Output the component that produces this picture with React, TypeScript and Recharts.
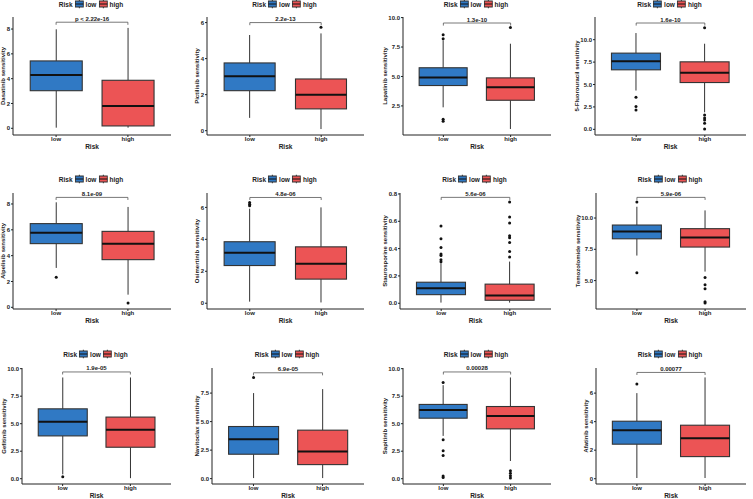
import React from "react";
import { Bar, ComposedChart, ReferenceLine, XAxis, YAxis } from "recharts";

const drugs = [
  "Dasatinib", "Pictilisib", "Lapatinib", "5-Fluorouracil",
  "Alpelisib", "Osimertinib", "Staurosporine", "Temozolomide",
  "Gefitinib", "Navitoclax", "Sapitinib", "Afatinib"
];
const pLabels = [
  "p < 2.22e-16", "2.2e-13", "1.3e-10", "1.6e-10",
  "8.1e-09", "4.8e-06", "5.6e-06", "5.9e-06",
  "1.9e-05", "6.9e-05", "0.00028", "0.00077"
];
const groups = ["low", "high"];

// every row is [low, high]
const whiskerMin = [[0.05, 0.05], [0.71, 0.09], [2.38, 0.54], [4.33, 1.9], [3.05, 0.98], [0.1, 0.05], [0.005, 0.005], [7.0, 5.72], [0.4, 0.05], [0.05, 0.05], [3.89, 1.61], [0.05, 0.05]];
const q1 = [[3.03, 0.19], [2.22, 1.21], [4.23, 2.98], [6.64, 5.22], [4.93, 3.69], [2.36, 1.51], [0.063, 0.022], [8.34, 7.68], [3.89, 2.86], [2.14, 1.23], [5.5, 4.53], [2.42, 1.55]];
const medians = [[4.3, 1.8], [3.02, 1.99], [4.91, 4.09], [7.6, 6.31], [5.78, 4.93], [3.16, 2.47], [0.11, 0.056], [8.93, 8.45], [5.17, 4.44], [3.46, 2.37], [6.24, 5.69], [3.4, 2.84]];
const q3 = [[5.43, 3.87], [3.76, 2.87], [5.74, 4.88], [8.5, 7.53], [6.48, 5.88], [3.85, 3.53], [0.154, 0.14], [9.44, 9.15], [6.35, 5.6], [4.57, 4.25], [6.75, 6.56], [4.03, 3.75]];
const whiskerMax = [[7.98, 8.09], [5.31, 5.4], [8.07, 7.78], [10.74, 9.55], [8.13, 7.77], [5.92, 6.0], [0.293, 0.305], [10.9, 10.61], [9.2, 9.2], [7.5, 7.85], [8.5, 9.2], [6.0, 7.1]];
const lowOutliers = [[], [], [8.55, 8.2, 1.36, 1.19], [3.58, 2.54, 2.17], [2.32], [6.1, 6.2, 6.3], [0.565, 0.472, 0.408, 0.36, 0.35, 0.318, 0.303], [11.28, 5.62], [0.17], [8.87], [8.75, 3.53, 2.55, 2.1, 0.25, 0.1], [6.63]];
const highOutliers = [[], [5.74], [9.15], [11.34, 1.6, 1.27, 1.05, 0.67, 0.04], [0.34], [], [0.741, 0.631, 0.587, 0.494, 0.48, 0.445, 0.379, 0.338], [5.24, 4.66, 4.34, 3.3, 3.2], [], [], [0.73, 0.49, 0.27, 0.06], []];
const bracketAt = [8.55, 6.0, 9.54, 11.86, 8.51, 6.62, 0.775, 11.65, 9.7, 9.28, 9.7, 7.45];

const yDomains = [[-0.54, 8.97], [-0.24, 6.31], [0.03, 10.05], [-0.63, 12.53], [-0.13, 8.85], [-0.36, 6.9], [-0.042, 0.807], [2.73, 12.0], [-0.48, 10.06], [-0.47, 9.7], [-0.48, 10.06], [-0.37, 7.76]];
const yTicks = [
  [0, 2, 4, 6, 8], [0, 2, 4, 6], [2.5, 5, 7.5, 10], [0, 2.5, 5, 7.5, 10],
  [0, 2, 4, 6, 8], [0, 2, 4, 6], [0, 0.2, 0.4, 0.6, 0.8], [5, 7.5, 10],
  [0, 2.5, 5, 7.5, 10], [0, 2.5, 5, 7.5], [0, 2.5, 5, 7.5, 10], [0, 2, 4, 6]
];

const fills: Record<string, string> = { low: "#3079C4", high: "#EC5455" };
const ink = "#222";
const FONT = '"Liberation Sans", Arial, sans-serif';

// layout
const colLeft = [0, 190, 378, 568];
const plotRight = [171, 364, 551, 746];
const plotLeft = [13, 207, 403, 595, 13, 207, 400, 596, 22, 212, 403, 596];
const rowTop = [17, 193, 368];
const rowBottom = [135, 309, 484];
const legendY = [4, 179, 354];

const labelWidth = (s: string) => [...s].reduce((w, c) => w + (c === "." ? 1.67 : 3.34), 0);

function BoxShape(props: any) {
  const { x, y, width, height, payload } = props;
  const [lo, hi] = payload.range;
  const top = Math.min(y, y + height);
  const bottom = Math.max(y, y + height);
  const py = (v: number) => bottom - ((v - lo) / (hi - lo)) * (bottom - top);
  const cx = x + width / 2;
  return (
    <g>
      <line x1={cx} x2={cx} y1={py(hi)} y2={py(payload.q3)} stroke="#333" strokeWidth={1} />
      <line x1={cx} x2={cx} y1={py(payload.q1)} y2={py(lo)} stroke="#333" strokeWidth={1} />
      <rect x={x} y={py(payload.q3)} width={width} height={py(payload.q1) - py(payload.q3)}
        fill={fills[payload.risk]} stroke="#333" strokeWidth={1.1} />
      <line x1={x} x2={x + width} y1={py(payload.med)} y2={py(payload.med)} stroke="#111" strokeWidth={2} />
      {payload.out.map((v: number, k: number) => (
        <circle key={k} cx={cx} cy={py(v)} r={1.5} fill="#111" />
      ))}
    </g>
  );
}

function LegendIcon({ color }: { color: string }) {
  return (
    <svg width={9} height={9} style={{ display: "block" }}>
      <line x1={4.5} x2={4.5} y1={0} y2={9} stroke="#333" />
      <rect x={0.5} y={1.5} width={8} height={6} fill={color} stroke="#333" />
      <line x1={0.5} x2={8.5} y1={4.5} y2={4.5} stroke="#111" />
    </svg>
  );
}

function PanelLegend({ cx, cy }: { cx: number; cy: number }) {
  return (
    <div style={{
      position: "absolute", left: cx, top: cy, transform: "translate(-50%, -50%)",
      display: "flex", alignItems: "center", fontSize: 6.5, fontWeight: "bold", color: ink,
      whiteSpace: "nowrap", lineHeight: "9px"
    }}>
      <span style={{ marginRight: 2 }}>Risk</span>
      {groups.map((g) => (
        <React.Fragment key={g}>
          <LegendIcon color={fills[g]} />
          <span style={{ marginLeft: 2, marginRight: 2 }}>{g}</span>
        </React.Fragment>
      ))}
    </div>
  );
}

function Panel({ i }: { i: number }) {
  const row = Math.floor(i / 4);
  const col = i % 4;
  const left = colLeft[col];
  const top = rowTop[row] - 6;
  const width = plotRight[col] + 4 - left;
  const height = rowBottom[row] - rowTop[row] + 6 + 16;
  const yAxisW = plotLeft[i] - left;
  const plotW = plotRight[col] - plotLeft[i];
  const pad = plotW * 0.0455;
  const decimals = yTicks[i].some((t) => !Number.isInteger(t)) ? 1 : 0;
  const maxLabel = Math.max(...yTicks[i].map((t) => labelWidth(t.toFixed(decimals))));
  const titleX = yAxisW - maxLabel - 6.5;
  const [d0, d1] = yDomains[i];
  const tick = (d1 - d0) * 0.022;
  const b = bracketAt[i];

  const data = groups.map((g, k) => ({
    risk: g,
    range: [whiskerMin[i][k], whiskerMax[i][k]],
    q1: q1[i][k],
    med: medians[i][k],
    q3: q3[i][k],
    out: k === 0 ? lowOutliers[i] : highOutliers[i]
  }));

  return (
    <>
      <PanelLegend cx={(plotLeft[i] + plotRight[col]) / 2} cy={legendY[row]} />
      <div style={{ position: "absolute", left, top }}>
        <ComposedChart width={width} height={height} data={data} barCategoryGap="14%"
          margin={{ top: 6, right: 4, bottom: 0, left: 0 }}>
          <XAxis dataKey="risk" type="category" allowDuplicatedCategory={false}
            padding={{ left: pad, right: pad }} height={16} tickSize={2} tickMargin={0}
            axisLine={{ stroke: ink }} tickLine={{ stroke: ink }}
            tick={{ fontSize: 6, fontWeight: "bold", fill: ink }}
            label={{
              value: "Risk",
              content: (p: any) => (
                <text x={p.viewBox.x + p.viewBox.width / 2} y={p.viewBox.y + 11} textAnchor="middle"
                  dominantBaseline="central" fontSize={6.5} fontWeight="bold" fill={ink}>Risk</text>
              )
            }} />
          <YAxis type="number" domain={[d0, d1]} ticks={yTicks[i]} allowDataOverflow width={yAxisW}
            tickSize={2} tickMargin={1} axisLine={{ stroke: ink }} tickLine={{ stroke: ink }}
            tick={{ fontSize: 6, fontWeight: "bold", fill: ink }}
            tickFormatter={(v: number) => v.toFixed(decimals)}
            label={{
              value: drugs[i],
              content: (p: any) => {
                const cx = p.viewBox.x + titleX;
                const cy = p.viewBox.y + p.viewBox.height / 2;
                return (
                  <text x={cx} y={cy} transform={`rotate(-90 ${cx} ${cy})`} textAnchor="middle"
                    dominantBaseline="central" fontSize={6} fontWeight="bold" fill={ink}>
                    {`${drugs[i]} sensitivity`}
                  </text>
                );
              }
            }} />
          <Bar dataKey="range" shape={BoxShape} isAnimationActive={false} />
          <ReferenceLine segment={[{ x: "low", y: b }, { x: "high", y: b }]} stroke="#555" strokeWidth={0.8}
            ifOverflow="visible"
            label={{ value: pLabels[i], position: "top", offset: 1.5, fontSize: 6, fontWeight: "bold", fill: ink }} />
          <ReferenceLine segment={[{ x: "low", y: b }, { x: "low", y: b - tick }]} stroke="#555" strokeWidth={0.8} ifOverflow="visible" />
          <ReferenceLine segment={[{ x: "high", y: b }, { x: "high", y: b - tick }]} stroke="#555" strokeWidth={0.8} ifOverflow="visible" />
        </ComposedChart>
      </div>
    </>
  );
}

export default function App() {
  return (
    <div style={{
      position: "absolute", left: 0, top: 0, width: 753, height: 499,
      background: "#fff", fontFamily: FONT, overflow: "hidden"
    }}>
      {drugs.map((_, i) => <Panel key={i} i={i} />)}
    </div>
  );
}
